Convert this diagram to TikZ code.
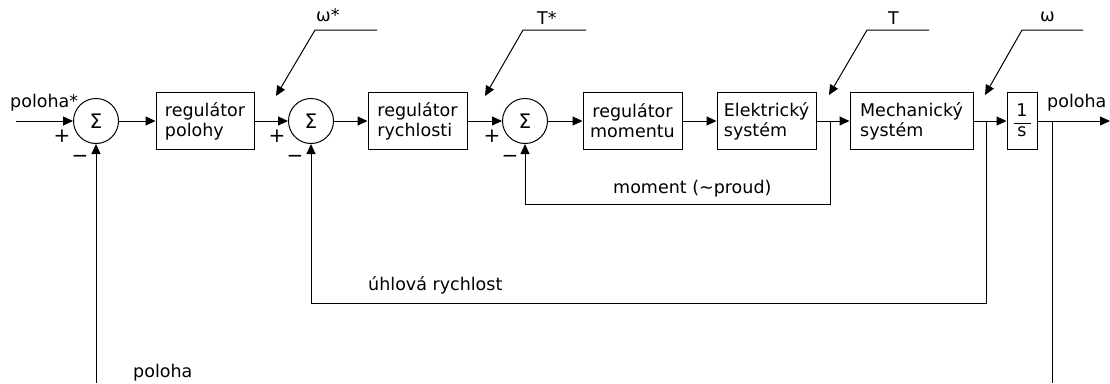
\documentclass[tikz,border=0pt]{standalone}
\usepackage{fontspec}
\setmainfont{DejaVu Sans}
\usetikzlibrary{arrows.meta}
\begin{document}
\begin{tikzpicture}[x=1pt,y=-1pt,
  every node/.style={font=\fontsize{17.5}{20}\selectfont},
  blk/.style={draw, line width=1pt, minimum height=57pt, inner sep=0pt, align=left},
  sumnode/.style={draw, circle, line width=1pt, minimum size=45pt, inner sep=0pt,
                  font=\fontsize{20}{20}\selectfont},
  sig/.style={line width=1pt, -{Triangle[length=10pt,width=9pt]}},
  wire/.style={line width=1pt},
  lbl/.style={anchor=base west, inner sep=0pt},
  sgn/.style={inner sep=0pt, font=\fontsize{20}{20}\selectfont},
]
\useasboundingbox (0,0) rectangle (1110,383);

% summing junctions and blocks
\node[sumnode] (s1) at (96,121) {Σ};
\node[blk, minimum width=98pt] (b1) at (205,121) {regulátor\\polohy};
\node[sumnode] (s2) at (311,121) {Σ};
\node[blk, minimum width=99pt] (b2) at (417.5,121) {regulátor\\rychlosti};
\node[sumnode] (s3) at (525,121) {Σ};
\node[blk, minimum width=99pt, align=center] (b3) at (632.5,121) {regulátor\\momentu};
\node[blk, minimum width=99pt] (b4) at (766.5,121) {Elektrický\\systém};
\node[blk, minimum width=123pt] (b5) at (911.5,121) {Mechanický\\systém};
\node[blk, minimum width=30pt] (b6) at (1022,121) {};
\node[inner sep=0pt] (one) at (1022,110) {1};
\node[inner sep=0pt] (ess) at (1022,132) {s};
\coordinate (barL) at (1013.5,123);
\coordinate (barR) at (1030.5,123);
\draw[wire] (barL) -- (barR);

% signs at the junctions
\node[sgn] (s1p) at (62,136) {+};
\node[sgn] (s1m) at (80,159) {−};
\node[sgn] (s2p) at (277,136) {+};
\node[sgn] (s2m) at (295,159) {−};
\node[sgn] (s3p) at (492,136) {+};
\node[sgn] (s3m) at (510,159) {−};

% forward path
\coordinate (in) at (16,121);
\coordinate (pT) at (830,121);
\coordinate (pW) at (986,121);
\coordinate (pX) at (1052,121);
\coordinate (out) at (1110,121);
\draw[sig] (in) -- (s1);
\draw[sig] (s1) -- (b1);
\draw[sig] (b1) -- (s2);
\draw[sig] (s2) -- (b2);
\draw[sig] (b2) -- (s3);
\draw[sig] (s3) -- (b3);
\draw[sig] (b3) -- (b4);
\draw[sig] (b4) -- (b5);
\draw[sig] (b5) -- (b6);
\draw[sig] (b6) -- (out);

% feedback paths
\coordinate (mA) at (830,204);
\coordinate (mB) at (525,204);
\draw[sig] (pT) -- (mA) -- (mB) -- (s3.south);
\coordinate (wA) at (986,303);
\coordinate (wB) at (311,303);
\draw[sig] (pW) -- (wA) -- (wB) -- (s2.south);
\coordinate (xA) at (1052,383);
\coordinate (xB) at (96,383);
\draw[wire] (pX) -- (xA);
\draw[sig] (xB) -- (s1.south);

% signal name leaders
\coordinate (l1e) at (377,30); \coordinate (l1k) at (315,30); \coordinate (l1t) at (276,96);
\coordinate (l2e) at (586,30); \coordinate (l2k) at (523,30); \coordinate (l2t) at (485,96);
\coordinate (l3e) at (929,30); \coordinate (l3k) at (867,30); \coordinate (l3t) at (829,95);
\coordinate (l4e) at (1083,30); \coordinate (l4k) at (1022,30); \coordinate (l4t) at (985,95);
\draw[sig] (l1e) -- (l1k) -- (l1t);
\draw[sig] (l2e) -- (l2k) -- (l2t);
\draw[sig] (l3e) -- (l3k) -- (l3t);
\draw[sig] (l4e) -- (l4k) -- (l4t);
\node[lbl] (n1) at (316,21) {ω*};
\node[lbl] (n2) at (537,24) {T*};
\node[lbl] (n3) at (888,24) {T};
\node[lbl] (n4) at (1040,21) {ω};

% signal labels
\node[lbl] (tin) at (10,107) {poloha*};
\node[lbl] (tout) at (1047,107) {poloha};
\node[lbl] (tmom) at (613,193) {moment (\char`\~proud)};
\node[lbl] (tw) at (368,290) {úhlová rychlost};
\node[lbl] (tx) at (133,377) {poloha};
\end{tikzpicture}
\end{document}
